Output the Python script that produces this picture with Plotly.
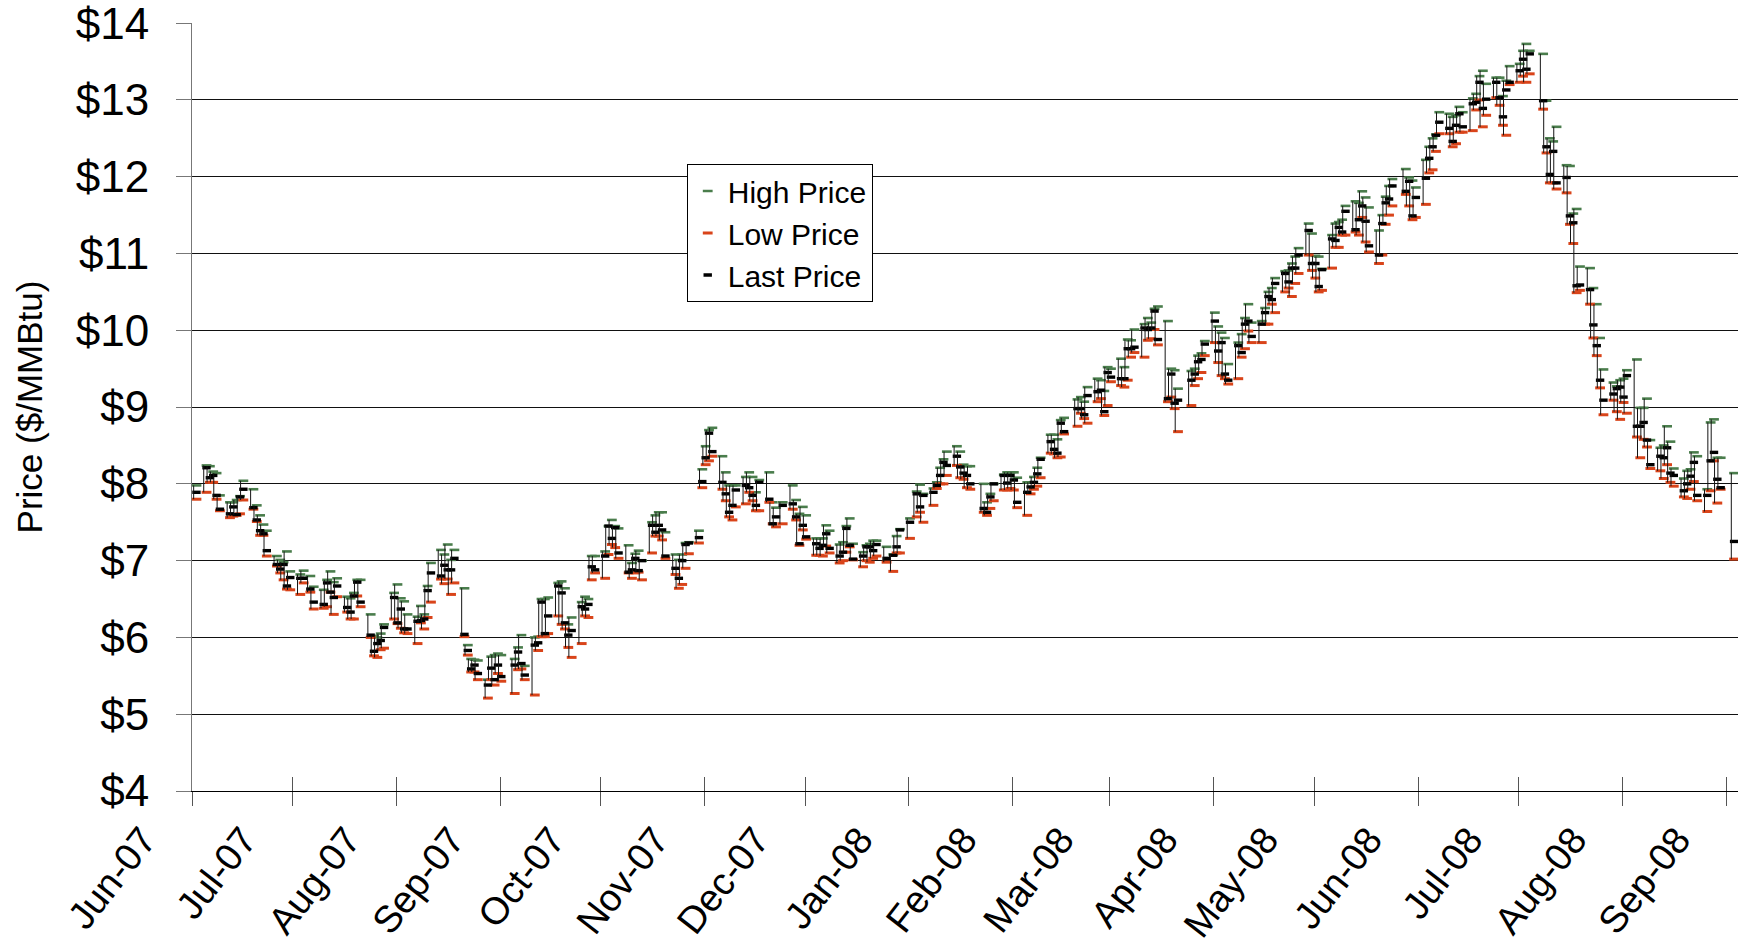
import plotly.graph_objects as go
from datetime import datetime, timedelta

# ---------------- data ----------------
dates = [
 "2007-06-01","2007-06-04","2007-06-05","2007-06-06","2007-06-07","2007-06-08",
 "2007-06-11","2007-06-12","2007-06-13","2007-06-14","2007-06-15",
 "2007-06-18","2007-06-19","2007-06-20","2007-06-21","2007-06-22",
 "2007-06-25","2007-06-26","2007-06-27","2007-06-28","2007-06-29",
 "2007-07-02","2007-07-03","2007-07-05","2007-07-06",
 "2007-07-09","2007-07-10","2007-07-11","2007-07-12","2007-07-13",
 "2007-07-16","2007-07-17","2007-07-18","2007-07-19","2007-07-20",
 "2007-07-23","2007-07-24","2007-07-25","2007-07-26","2007-07-27",
 "2007-07-30","2007-07-31","2007-08-01","2007-08-02","2007-08-03",
 "2007-08-06","2007-08-07","2007-08-08","2007-08-09","2007-08-10",
 "2007-08-13","2007-08-14","2007-08-15","2007-08-16","2007-08-17",
 "2007-08-20","2007-08-21","2007-08-22","2007-08-23","2007-08-24",
 "2007-08-27","2007-08-28","2007-08-29","2007-08-30","2007-08-31",
 "2007-09-04","2007-09-05","2007-09-06","2007-09-07",
 "2007-09-10","2007-09-11","2007-09-12","2007-09-13","2007-09-14",
 "2007-09-17","2007-09-18","2007-09-19","2007-09-20","2007-09-21",
 "2007-09-24","2007-09-25","2007-09-26","2007-09-27","2007-09-28",
 "2007-10-01","2007-10-02","2007-10-03","2007-10-04","2007-10-05",
 "2007-10-08","2007-10-09","2007-10-10","2007-10-11","2007-10-12",
 "2007-10-15","2007-10-16","2007-10-17","2007-10-18","2007-10-19",
 "2007-10-22","2007-10-23","2007-10-24","2007-10-25","2007-10-26",
 "2007-10-29","2007-10-30","2007-10-31","2007-11-01","2007-11-02",
 "2007-11-05","2007-11-06","2007-11-07","2007-11-08","2007-11-09",
 "2007-11-12","2007-11-13","2007-11-14","2007-11-15","2007-11-16",
 "2007-11-19","2007-11-20","2007-11-21","2007-11-23",
 "2007-11-26","2007-11-27","2007-11-28","2007-11-29","2007-11-30",
 "2007-12-03","2007-12-04","2007-12-05","2007-12-06","2007-12-07",
 "2007-12-10","2007-12-11","2007-12-12","2007-12-13","2007-12-14",
 "2007-12-17","2007-12-18","2007-12-19","2007-12-20","2007-12-21",
 "2007-12-24","2007-12-26","2007-12-27","2007-12-28","2007-12-31",
 "2008-01-02","2008-01-03","2008-01-04",
 "2008-01-07","2008-01-08","2008-01-09","2008-01-10","2008-01-11",
 "2008-01-14","2008-01-15","2008-01-16","2008-01-17","2008-01-18",
 "2008-01-22","2008-01-23","2008-01-24","2008-01-25",
 "2008-01-28","2008-01-29","2008-01-30","2008-01-31","2008-02-01",
 "2008-02-04","2008-02-05","2008-02-06","2008-02-07","2008-02-08",
 "2008-02-11","2008-02-12","2008-02-13","2008-02-14","2008-02-15",
 "2008-02-19","2008-02-20","2008-02-21","2008-02-22",
 "2008-02-25","2008-02-26","2008-02-27","2008-02-28","2008-02-29",
 "2008-03-03","2008-03-04","2008-03-05","2008-03-06","2008-03-07",
 "2008-03-10","2008-03-11","2008-03-12","2008-03-13","2008-03-14",
 "2008-03-17","2008-03-18","2008-03-19","2008-03-20",
 "2008-03-24","2008-03-25","2008-03-26","2008-03-27","2008-03-28",
 "2008-03-31","2008-04-01","2008-04-02","2008-04-03","2008-04-04",
 "2008-04-07","2008-04-08","2008-04-09","2008-04-10","2008-04-11",
 "2008-04-14","2008-04-15","2008-04-16","2008-04-17","2008-04-18",
 "2008-04-21","2008-04-22","2008-04-23","2008-04-24","2008-04-25",
 "2008-04-28","2008-04-29","2008-04-30","2008-05-01","2008-05-02",
 "2008-05-05","2008-05-06","2008-05-07","2008-05-08","2008-05-09",
 "2008-05-12","2008-05-13","2008-05-14","2008-05-15","2008-05-16",
 "2008-05-19","2008-05-20","2008-05-21","2008-05-22","2008-05-23",
 "2008-05-27","2008-05-28","2008-05-29","2008-05-30",
 "2008-06-02","2008-06-03","2008-06-04","2008-06-05","2008-06-06",
 "2008-06-09","2008-06-10","2008-06-11","2008-06-12","2008-06-13",
 "2008-06-16","2008-06-17","2008-06-18","2008-06-19","2008-06-20",
 "2008-06-23","2008-06-24","2008-06-25","2008-06-26","2008-06-27",
 "2008-06-30","2008-07-01","2008-07-02","2008-07-03",
 "2008-07-07","2008-07-08","2008-07-09","2008-07-10","2008-07-11",
 "2008-07-14","2008-07-15","2008-07-16","2008-07-17","2008-07-18",
 "2008-07-21","2008-07-22","2008-07-23","2008-07-24","2008-07-25",
 "2008-07-28","2008-07-29","2008-07-30","2008-07-31","2008-08-01",
 "2008-08-04","2008-08-05","2008-08-06","2008-08-07","2008-08-08",
 "2008-08-11","2008-08-12","2008-08-13","2008-08-14","2008-08-15",
 "2008-08-18","2008-08-19","2008-08-20","2008-08-21","2008-08-22",
 "2008-08-25","2008-08-26","2008-08-27","2008-08-28","2008-08-29",
 "2008-09-02",
]

high_price = [
 7.98,8.24,8.23,8.16,8.14,7.85,
 7.76,7.76,7.79,7.84,8.04,
 7.93,7.72,7.59,7.47,7.39,
 7.06,7.01,6.98,7.12,6.86,
 6.82,6.87,6.80,6.66,
 6.62,6.75,6.86,6.72,6.77,
 6.53,6.51,6.58,6.75,6.75,
 6.30,6.02,6.00,6.05,6.17,
 6.58,6.69,6.51,6.47,6.30,
 6.27,6.41,6.30,6.67,6.97,
 7.14,7.08,7.21,7.01,7.14,
 6.64,5.90,5.72,5.71,5.70,
 5.45,5.75,5.77,5.79,5.77,
 5.72,5.87,6.03,5.63,
 6.00,6.01,6.50,6.50,6.52,
 6.71,6.73,6.64,6.17,6.26,
 6.46,6.53,6.50,7.06,7.06,
 7.12,7.45,7.53,7.45,7.42,
 7.20,6.97,7.09,7.13,7.00,
 7.50,7.59,7.63,7.63,7.37,
 7.08,7.01,7.08,7.23,7.24,
 7.39,8.19,8.49,8.70,8.73,
 8.36,8.15,7.98,7.98,7.98,
 8.09,8.15,8.09,7.89,8.05,
 8.15,7.76,7.69,7.76,
 7.98,7.79,7.61,7.70,7.59,
 7.29,7.29,7.29,7.46,7.39,
 7.21,7.24,7.45,7.55,7.22,
 7.11,7.20,7.22,7.26,7.26,
 7.18,7.08,7.32,7.41,7.55,
 7.90,7.99,7.87,
 7.94,8.02,8.21,8.32,8.42,
 8.49,8.42,8.25,8.23,8.23,
 8.00,7.76,7.87,8.00,
 8.12,8.15,8.15,8.15,8.08,
 8.02,8.02,8.09,8.21,8.34,
 8.64,8.64,8.58,8.83,8.86,
 9.10,9.13,9.07,9.26,
 9.37,9.35,9.21,9.52,9.50,
 9.63,9.52,9.88,9.87,10.01,
 10.08,10.16,10.10,10.28,10.31,
 10.12,9.50,9.48,9.24,
 9.47,9.50,9.67,9.70,9.86,
 10.23,10.05,9.97,9.90,9.56,
 9.84,9.95,10.16,10.34,10.10,
 10.12,10.29,10.50,10.55,10.68,
 10.77,10.78,10.87,10.96,11.07,
 11.39,11.26,10.97,10.96,10.80,
 11.24,11.39,11.41,11.44,11.62,
 11.68,11.66,11.81,11.73,11.60,
 11.30,11.50,11.74,11.88,11.97,
 12.10,11.99,11.95,11.86,
 12.22,12.39,12.50,12.55,12.84,
 12.82,12.78,12.80,12.91,12.84,
 13.02,13.08,13.31,13.38,13.21,
 13.29,13.29,13.05,13.25,13.44,
 13.47,13.64,13.73,13.64,
 13.60,12.99,12.50,12.46,12.65,
 12.15,12.14,11.52,11.58,10.83,
 10.81,10.55,10.34,9.90,9.49,
 9.32,9.27,9.35,9.37,9.48,
 9.62,8.99,8.99,9.11,8.57,
 8.47,8.50,8.75,8.55,8.20,
 8.07,8.17,8.19,8.41,8.36,
 7.93,8.80,8.84,8.34,8.34,
 8.14,
]

low_price = [
 7.80,7.89,8.02,8.02,7.80,7.65,
 7.56,7.58,7.59,7.61,7.79,
 7.67,7.51,7.33,7.33,7.06,
 6.93,6.84,6.75,6.63,6.62,
 6.56,6.71,6.59,6.37,
 6.38,6.40,6.59,6.30,6.53,
 6.33,6.24,6.24,6.54,6.40,
 6.00,5.76,5.74,5.84,5.86,
 6.24,6.18,6.12,6.06,6.05,
 5.92,6.19,6.11,6.26,6.46,
 6.76,6.70,6.76,6.56,6.71,
 6.01,5.77,5.55,5.55,5.45,
 5.21,5.45,5.38,5.53,5.43,
 5.27,5.58,5.59,5.45,
 5.25,5.83,6.01,6.01,6.05,
 6.28,6.17,6.11,5.87,5.74,
 5.92,6.28,6.26,6.75,6.84,
 6.77,7.08,7.21,7.17,7.03,
 6.84,6.77,6.84,6.85,6.75,
 7.10,7.32,7.32,7.27,7.03,
 6.82,6.64,6.69,6.90,7.09,
 7.23,7.95,8.25,8.30,8.36,
 7.93,7.78,7.57,7.53,7.70,
 7.74,7.89,7.78,7.65,7.65,
 7.76,7.48,7.44,7.48,
 7.67,7.53,7.20,7.40,7.28,
 7.07,7.07,7.06,7.19,7.10,
 6.97,7.00,7.11,7.18,7.01,
 6.92,7.00,6.98,7.03,7.06,
 6.98,6.86,7.10,7.10,7.29,
 7.57,7.63,7.50,
 7.72,7.94,8.00,8.00,8.11,
 8.24,8.08,8.06,7.95,7.93,
 7.63,7.59,7.68,7.78,
 7.92,7.92,7.94,7.92,7.69,
 7.59,7.87,7.93,7.97,8.08,
 8.40,8.39,8.34,8.35,8.65,
 8.75,8.92,8.85,8.79,
 9.07,9.11,8.89,9.02,9.33,
 9.28,9.26,9.35,9.65,9.71,
 9.65,9.87,9.89,10.01,9.81,
 9.07,9.13,8.98,8.68,
 9.02,9.28,9.37,9.45,9.67,
 9.84,9.58,9.41,9.37,9.30,
 9.37,9.65,9.76,9.99,9.84,
 9.84,10.08,10.08,10.34,10.23,
 10.50,10.55,10.44,10.61,10.74,
 10.98,10.78,10.68,10.50,10.52,
 10.81,11.08,11.08,11.24,11.24,
 11.28,11.24,11.47,11.15,11.02,
 10.87,10.98,11.38,11.50,11.62,
 11.77,11.62,11.44,11.47,
 11.64,12.05,12.09,12.33,12.56,
 12.56,12.39,12.43,12.58,12.58,
 12.60,12.87,13.00,12.65,12.80,
 13.03,12.93,12.67,12.54,13.20,
 13.23,13.31,13.23,13.34,
 12.88,12.31,11.92,11.92,11.84,
 11.79,11.38,11.13,10.49,10.52,
 10.34,9.90,9.67,9.25,8.90,
 9.09,8.94,8.84,9.06,8.92,
 8.61,8.34,8.58,8.48,8.20,
 8.17,8.07,8.25,8.02,7.97,
 7.83,7.81,7.93,8.03,7.78,
 7.64,7.91,8.30,7.75,7.93,
 7.02,
]

last_price = [
 7.89,8.21,8.08,8.11,7.85,7.67,
 7.61,7.70,7.60,7.83,7.93,
 7.69,7.53,7.39,7.35,7.13,
 6.95,6.89,6.95,6.67,6.78,
 6.77,6.77,6.63,6.46,
 6.43,6.71,6.59,6.52,6.67,
 6.39,6.33,6.54,6.72,6.46,
 6.03,5.82,5.92,5.96,6.13,
 6.52,6.19,6.37,6.11,6.11,
 6.21,6.22,6.24,6.61,6.84,
 6.80,6.94,6.88,6.88,7.03,
 6.04,5.83,5.59,5.64,5.53,
 5.38,5.60,5.45,5.64,5.49,
 5.64,5.81,5.66,5.51,
 5.90,5.93,6.46,6.05,6.28,
 6.67,6.58,6.19,6.03,6.09,
 6.40,6.37,6.43,6.92,6.88,
 7.06,7.45,7.29,7.43,7.10,
 6.85,6.88,7.03,6.87,7.00,
 7.46,7.37,7.46,7.40,7.06,
 6.90,6.77,7.00,7.21,7.23,
 7.30,8.03,8.34,8.66,8.42,
 8.02,7.87,7.63,7.72,7.92,
 7.98,7.95,7.85,7.72,8.02,
 7.80,7.48,7.57,7.72,
 7.74,7.57,7.22,7.46,7.31,
 7.22,7.16,7.20,7.35,7.16,
 7.06,7.11,7.42,7.20,7.02,
 7.06,7.18,7.18,7.13,7.21,
 7.03,7.07,7.18,7.40,7.50,
 7.87,7.70,7.85,
 7.89,7.98,8.11,8.28,8.24,
 8.36,8.22,8.14,8.11,8.00,
 7.68,7.63,7.83,8.00,
 8.11,8.01,8.11,8.05,7.76,
 7.89,7.96,8.02,8.13,8.32,
 8.55,8.45,8.40,8.79,8.68,
 8.98,8.98,8.90,9.15,
 9.20,9.22,8.94,9.45,9.39,
 9.37,9.37,9.76,9.76,9.78,
 10.03,10.01,10.03,10.25,9.88,
 9.11,9.43,9.05,9.09,
 9.35,9.43,9.59,9.62,9.82,
 10.12,9.73,9.84,9.43,9.35,
 9.80,9.71,10.08,10.12,9.92,
 10.08,10.23,10.44,10.40,10.61,
 10.74,10.63,10.81,10.81,10.98,
 11.30,10.87,10.87,10.57,10.79,
 11.19,11.17,11.34,11.28,11.55,
 11.31,11.44,11.62,11.42,11.10,
 10.98,11.39,11.66,11.71,11.88,
 11.81,11.94,11.49,11.73,
 11.98,12.24,12.39,12.54,12.71,
 12.63,12.46,12.67,12.82,12.65,
 12.95,12.97,13.23,12.89,13.01,
 13.23,13.03,12.78,13.13,13.23,
 13.38,13.53,13.40,13.60,
 12.99,12.39,12.03,12.33,11.92,
 11.99,11.49,11.40,10.58,10.59,
 10.53,10.07,9.80,9.35,9.09,
 9.17,9.24,9.26,9.13,9.41,
 8.75,8.75,8.80,8.57,8.25,
 8.36,8.34,8.47,8.14,8.11,
 7.91,8.00,8.10,8.28,7.85,
 7.85,8.30,8.41,8.06,7.95,
 7.25,
]

axis_start = "2007-06-01"
axis_end = "2008-09-04 12:00"
y_ticks = [4, 5, 6, 7, 8, 9, 10, 11, 12, 13, 14]
y_labels = ["$" + str(v) for v in y_ticks]

# ---------------- build ----------------
FONT = "Liberation Sans, Arial, sans-serif"
GREEN = "#4a7d4c"
RED = "#d9441a"
BLACK = "#000000"

day = [datetime.strptime(d, "%Y-%m-%d") for d in dates]
line_x = [d + timedelta(hours=12) for d in day]       # hi-lo line in the middle of the day
mark_x = [d + timedelta(hours=32) for d in day]       # dash markers hang to the right of the line

hl_x, hl_y = [], []
for xx, lo, hi in zip(line_x, low_price, high_price):
    hl_x += [xx, xx, None]
    hl_y += [lo, hi, None]

fig = go.Figure()
fig.add_trace(go.Scatter(x=hl_x, y=hl_y, mode="lines", xaxis="x2",
                         line=dict(color="#141414", width=1),
                         showlegend=False, hoverinfo="skip"))

def dash_trace(name, ys, color, size, width):
    return go.Scatter(x=mark_x, y=ys, mode="markers", name=name,
                      marker=dict(symbol="line-ew", size=size,
                                  line=dict(color=color, width=width)))

fig.add_trace(dash_trace("High Price", high_price, GREEN, 7, 2.6))
fig.add_trace(dash_trace("Low Price", low_price, RED, 7, 3))
fig.add_trace(dash_trace("Last Price", last_price, BLACK, 6, 3.4))

xcommon = dict(type="date", range=[axis_start, axis_end], dtick="M1", tick0=axis_start,
               automargin=False)
fig.update_layout(
    width=1738, height=948,
    margin=dict(l=192, r=0, t=23, b=157, autoexpand=False),
    paper_bgcolor="white", plot_bgcolor="white",
    font=dict(family=FONT, color="black"),
    xaxis=dict(**xcommon, tickformat="%b-%y", tickangle=-52,
               ticks="outside", ticklen=14, tickcolor="#555", tickwidth=1,
               showline=True, linecolor="black", linewidth=1,
               showgrid=False, zeroline=False,
               tickfont=dict(size=38, family=FONT),
               ticklabelshift=-49, ticklabelstandoff=-4,
               ticklabeloverflow="allow"),
    xaxis2=dict(**xcommon, overlaying="x", matches="x", anchor="y",
                ticks="inside", ticklen=14, tickcolor="#555", tickwidth=1,
                showticklabels=False, showgrid=False, showline=False, zeroline=False),
    yaxis=dict(range=[4, 14.002], tickvals=y_ticks, ticktext=y_labels,
               showgrid=True, gridcolor="#111", gridwidth=1,
               showline=True, linecolor="#777", linewidth=1,
               ticks="outside", ticklen=15, tickcolor="#777",
               zeroline=False, tickfont=dict(size=44, family=FONT),
               ticklabelstandoff=18, automargin=False,
               ticklabeloverflow="allow",
               title=dict(text="Price ($/MMBtu)", font=dict(size=35, family=FONT),
                          standoff=22)),
    legend=dict(x=0.32, y=0.8164, xanchor="left", yanchor="top",
                bgcolor="white", bordercolor="black", borderwidth=1,
                font=dict(size=30, family=FONT), tracegroupgap=0,
                itemwidth=30),
    showlegend=True,
)

# remove the browser's default 8px page margin so the figure sits at the window's corner
fig.write_html("out.html", config={"displayModeBar": False},
               post_script="document.body.style.margin='0';document.body.style.overflow='hidden';")
